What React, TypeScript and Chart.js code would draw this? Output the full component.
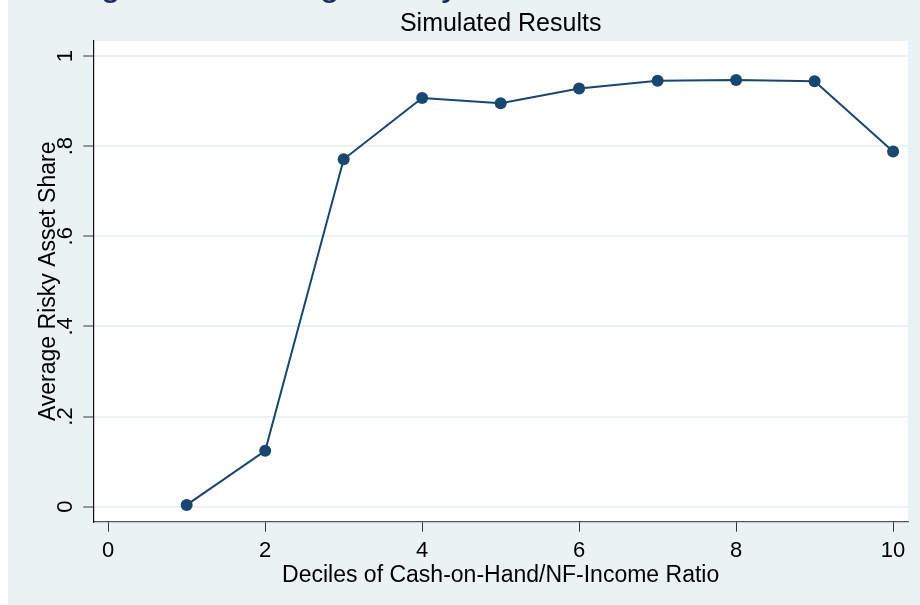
import React, { useEffect, useRef } from "react";
import { Chart, registerables } from "chart.js";

Chart.register(...registerables);

const deciles = [1, 2, 3, 4, 5, 6, 7, 8, 9, 10];
const riskyShare = [0.004, 0.124, 0.771, 0.907, 0.895, 0.928, 0.945, 0.947, 0.944, 0.788];
const xTickValues = [0, 2, 4, 6, 8, 10];
const xTickLabels = ["0", "2", "4", "6", "8", "10"];
const yTickValues = [0, 0.2, 0.4, 0.6, 0.8, 1];
const yTickLabels = ["0", ".2", ".4", ".6", ".8", "1"];

const chartTitle = "Simulated Results";
const cutTitle = "Figure 3: Average Risky Asset Share";
const xTitle = "Deciles of Cash-on-Hand/NF-Income Ratio";
const yTitle = "Average Risky Asset Share";

const FONT = "'Liberation Sans', Arial, sans-serif";
const BG = "#eaf2f3";
const NAVY = "#1a476f";

const bgPlugin = {
  id: "stataBg",
  beforeDraw(chart: any) {
    const { ctx, chartArea } = chart;
    ctx.save();
    ctx.fillStyle = BG;
    ctx.fillRect(0, 0, chart.width, chart.height);
    ctx.fillStyle = "#ffffff";
    ctx.fillRect(chartArea.left, chartArea.top, chartArea.right - chartArea.left, chartArea.bottom - chartArea.top);
    ctx.restore();
  },
  afterDraw(chart: any) {
    const { ctx } = chart;
    ctx.save();
    ctx.font = `36.6px ${FONT}`;
    ctx.fillStyle = "#1c2d5c";
    ctx.textBaseline = "alphabetic";
    ctx.textAlign = "left";
    ctx.fillText(cutTitle, 62, -5);
    ctx.restore();
  },
};

export default function App() {
  const ref = useRef<HTMLCanvasElement | null>(null);

  useEffect(() => {
    if (!ref.current) return;
    Chart.defaults.font.family = FONT;
    const chart = new Chart(ref.current, {
      type: "line",
      data: {
        datasets: [
          {
            data: deciles.map((d, i) => ({ x: d, y: riskyShare[i] })),
            borderColor: NAVY,
            backgroundColor: NAVY,
            borderWidth: 2,
            pointRadius: 6,
            pointBackgroundColor: NAVY,
            pointBorderWidth: 0,
            tension: 0,
            fill: false,
          },
        ],
      },
      options: {
        animation: false,
        responsive: false,
        layout: { padding: { left: 0, right: 12, top: 0, bottom: 0 } },
        plugins: {
          legend: { display: false },
          tooltip: { enabled: false },
          title: {
            display: true,
            text: chartTitle,
            fullSize: false,
            color: "#000",
            font: { size: 25, weight: "normal", family: FONT },
            padding: { top: 9, bottom: 2 },
          },
        },
        scales: {
          x: {
            type: "linear",
            min: -0.19,
            max: 10.19,
            afterFit: (s: any) => {
              s.height = 83.3;
            },
            afterBuildTicks: (s: any) => {
              s.ticks = xTickValues.map((v) => ({ value: v }));
            },
            ticks: {
              color: "#000",
              font: { size: 22, family: FONT },
              padding: 6,
              maxRotation: 0,
              minRotation: 0,
              callback: (v: any) => xTickLabels[xTickValues.indexOf(Number(v))] ?? "",
            },
            grid: {
              drawOnChartArea: false,
              drawTicks: true,
              tickLength: 10,
              tickColor: "#333",
              tickWidth: 1,
            },
            border: { display: true, color: "#555", width: 1.2 },
            title: {
              display: true,
              text: xTitle,
              color: "#000",
              font: { size: 23, family: FONT },
              padding: { top: 0, bottom: 16 },
            },
          },
          y: {
            type: "linear",
            min: -0.0333,
            max: 1.0333,
            afterFit: (s: any) => {
              s.width = 85.3;
            },
            afterBuildTicks: (s: any) => {
              s.ticks = yTickValues.map((v) => ({ value: v }));
            },
            ticks: {
              color: "#000",
              font: { size: 22, family: FONT },
              padding: 8,
              minRotation: 90,
              maxRotation: 90,
              crossAlign: "center",
              callback: (v: any) => {
                const idx = yTickValues.findIndex((t) => Math.abs(t - Number(v)) < 1e-6);
                return idx >= 0 ? yTickLabels[idx] : "";
              },
            },
            grid: {
              color: BG,
              lineWidth: 2,
              drawTicks: true,
              tickLength: 10,
              tickColor: "#555",
              tickWidth: 1.2,
            },
            border: { display: true, color: "#111", width: 1.2 },
            title: {
              display: true,
              text: yTitle,
              color: "#000",
              font: { size: 23, family: FONT },
              padding: { top: 27, bottom: 0 },
            },
          },
        },
      },
      plugins: [bgPlugin],
    } as any);
    return () => chart.destroy();
  }, []);

  return (
    <div style={{ position: "absolute", left: 8, top: 0, width: 912, height: 605 }}>
      <canvas ref={ref} width={912} height={605} style={{ display: "block" }} />
    </div>
  );
}
